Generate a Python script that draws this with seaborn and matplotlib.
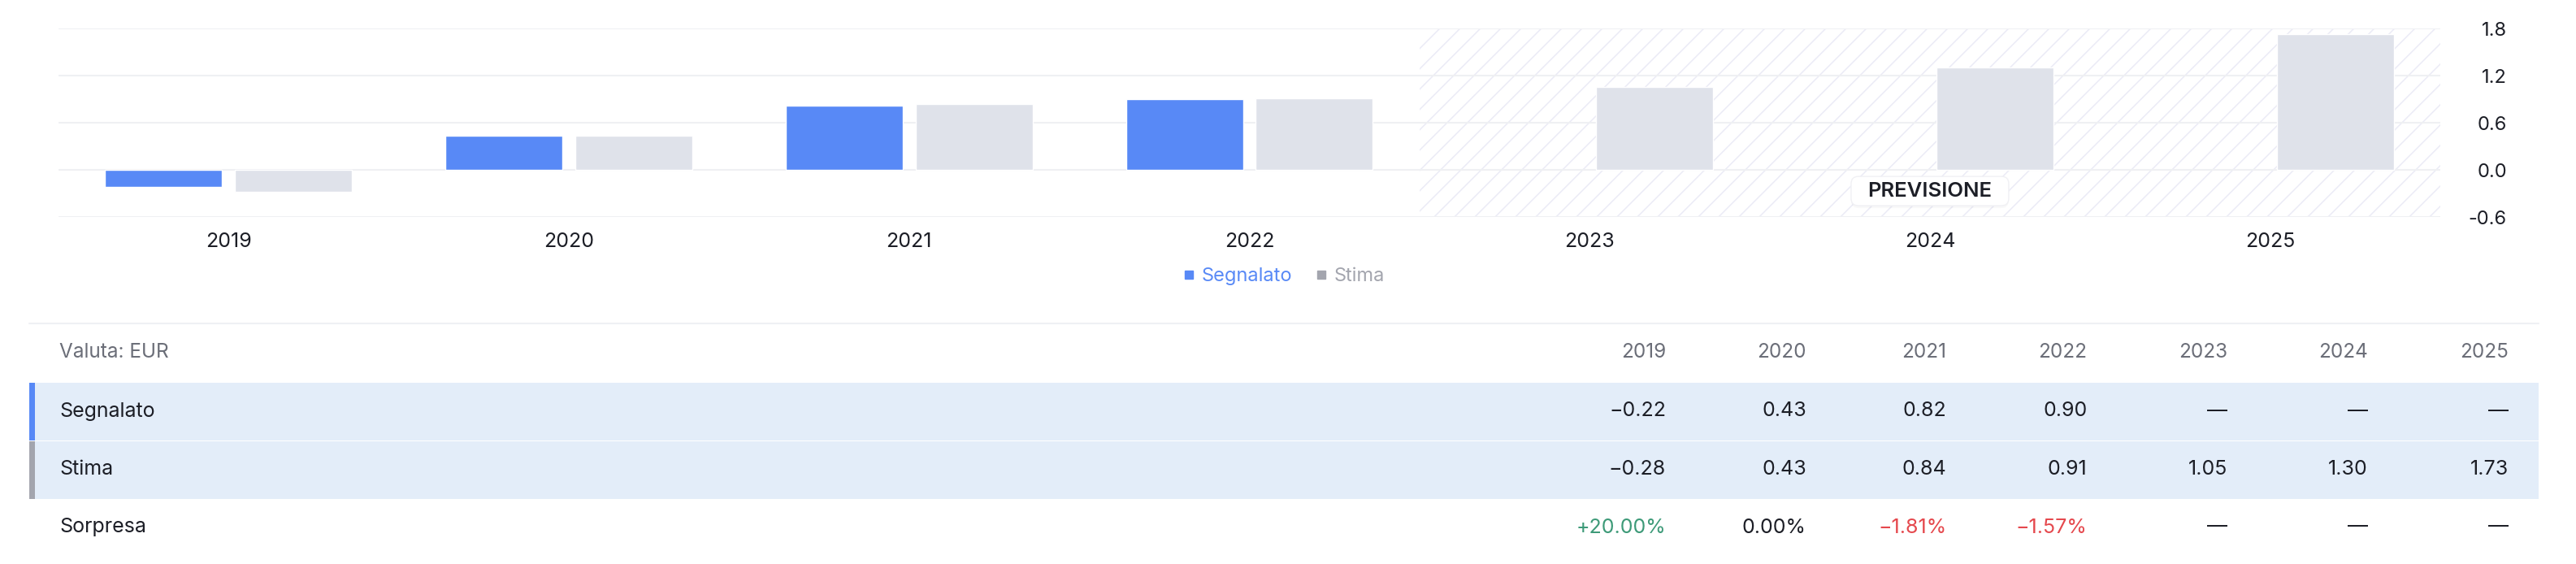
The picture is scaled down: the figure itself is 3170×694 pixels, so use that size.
import numpy as np
import pandas as pd
import seaborn as sns
import matplotlib.pyplot as plt
from matplotlib.lines import Line2D
from matplotlib.patches import Rectangle, FancyBboxPatch

# data
years = ["2019", "2020", "2021", "2022", "2023", "2024", "2025"]
segnalato = [-0.22, 0.43, 0.82, 0.90, np.nan, np.nan, np.nan]
stima = [-0.28, 0.43, 0.84, 0.91, 1.05, 1.30, 1.73]
sorpresa = ["+20.00%", "0.00%", "\u22121.81%", "\u22121.57%", "\u2014", "\u2014", "\u2014"]
forecast_from = "2023"
y_ticks = [-0.6, 0.0, 0.6, 1.2, 1.8]

BLUE = "#5889f6"
GREY_BAR = "#dfe2ea"
GREY_MARK = "#a3a5ae"
DARK = "#1c1e26"
MUTED = "#6b6e78"
BAND = "#e3edf9"
GRID = "#eff0f3"
HATCH = "#ebebf6"

W, H = 3170, 694

sns.set_theme(style="white")
plt.rcParams["font.family"] = ["Inter", "DejaVu Sans"]

df = pd.DataFrame({
    "anno": years * 2,
    "serie": ["Segnalato"] * len(years) + ["Stima"] * len(years),
    "valore": segnalato + stima,
})

fig = plt.figure(figsize=(W / 100, H / 100), dpi=100)

# full-figure overlay in pixel coordinates (y down) for table and decoration
tab = fig.add_axes([0, 0, 1, 1])
tab.set_xlim(0, W)
tab.set_ylim(H, 0)
tab.axis("off")

ax = fig.add_axes([72 / W, 1 - 267 / H, (3003 - 72) / W, (267 - 35) / H])
ax.patch.set_alpha(0)
sns.barplot(data=df, x="anno", y="valore", hue="serie",
            palette={"Segnalato": BLUE, "Stima": GREY_BAR},
            width=0.764, gap=0.1, errorbar=None, saturation=1,
            legend=False, ax=ax)

ax.set_xlim(-0.5, len(years) - 0.5)
ax.set_ylim(-0.6, 1.8)
ax.set_yticks(y_ticks)
ax.set_yticklabels([f"{v:.1f}" for v in y_ticks])
ax.yaxis.tick_right()
ax.tick_params(axis="y", length=0, pad=59, labelsize=17, labelcolor=DARK)
ax.tick_params(axis="x", length=0, pad=14, labelsize=18, labelcolor=DARK)
for lbl in ax.get_yticklabels():
    lbl.set_horizontalalignment("right")
ax.set_xlabel("")
ax.set_ylabel("")
ax.grid(axis="y", color=GRID, linewidth=1.5)
ax.grid(axis="x", visible=False)
ax.set_axisbelow(True)
sns.despine(ax=ax, left=True, bottom=True, right=True, top=True)


def to_px(x, y):
    dx, dy = ax.transData.transform((x, y))
    return dx, H - dy


# hatched forecast zone, 45 degree lines
start = years.index(forecast_from) - 0.5
x0, y1 = to_px(start, -0.6)
x1, y0 = to_px(len(years) - 0.5, 1.8)
zone = Rectangle((x0, y0), x1 - x0, y1 - y0, fc="none", lw=0)
tab.add_patch(zone)
span = y1 - y0
for c in np.arange(x0 - span, x1, 25):
    ln, = tab.plot([c, c + span], [y1, y0], color=HATCH, lw=1.1, zorder=0)
    ln.set_clip_path(zone)

# forecast badge
bx, by = to_px(years.index("2024"), -0.27)
ax.add_patch(FancyBboxPatch((bx - 97, by - 15), 194, 36,
                            boxstyle="round,pad=0,rounding_size=9",
                            fc="#000000", alpha=0.025, lw=0,
                            transform=tab.transData, zorder=4))
ax.add_patch(FancyBboxPatch((bx - 97, by - 18), 194, 36,
                            boxstyle="round,pad=0,rounding_size=9",
                            fc="white", ec="#f0f0f4", lw=1,
                            transform=tab.transData, zorder=5))
ax.text(bx, by, "PREVISIONE", ha="center", va="center", transform=tab.transData,
        fontsize=18.5, fontweight="semibold", color=DARK, zorder=6)

handles = [
    Line2D([], [], marker="s", ls="", color=BLUE, markersize=7.5),
    Line2D([], [], marker="s", ls="", color=GREY_MARK, markersize=7.5),
]
fig.legend(handles, ["Segnalato", "Stima"], loc="center",
           bbox_to_anchor=(1580 / W, 1 - 340 / H), ncol=2, frameon=False,
           fontsize=17, handlelength=0.6, handletextpad=0.35,
           columnspacing=1.2, labelcolor=[BLUE, GREY_MARK])

# table
col_right = [2050 + i * 172.8 for i in range(len(years))]
tab.plot([36, 3124], [398, 398], color="#eff0f4", lw=1.5)
tab.add_patch(Rectangle((36, 471), 3124 - 36, 71, fc=BAND, lw=0))
tab.add_patch(Rectangle((36, 543), 3124 - 36, 71, fc=BAND, lw=0))
tab.add_patch(Rectangle((36, 471), 7, 71, fc=BLUE, lw=0))
tab.add_patch(Rectangle((36, 543), 7, 71, fc=GREY_MARK, lw=0))

tab.text(73, 433, "Valuta: EUR", ha="left", va="center", fontsize=17.5, color=MUTED)
for x, yr in zip(col_right, years):
    tab.text(x, 433, yr, ha="right", va="center", fontsize=17.5, color=MUTED)


def fmt(v):
    if np.isnan(v):
        return "\u2014"
    return f"{v:.2f}".replace("-", "\u2212")


rows = [("Segnalato", [fmt(v) for v in segnalato], 506),
        ("Stima", [fmt(v) for v in stima], 578),
        ("Sorpresa", sorpresa, 649)]
for name, vals, y in rows:
    tab.text(73, y, name, ha="left", va="center", fontsize=18, color=DARK)
    for x, s in zip(col_right, vals):
        c = DARK
        if name == "Sorpresa" and s.startswith("+"):
            c = "#3d9a78"
        elif name == "Sorpresa" and s.startswith("\u2212"):
            c = "#e5484d"
        tab.text(x, y, s, ha="right", va="center", fontsize=18, color=c)

fig.savefig("out.png", dpi=100)
